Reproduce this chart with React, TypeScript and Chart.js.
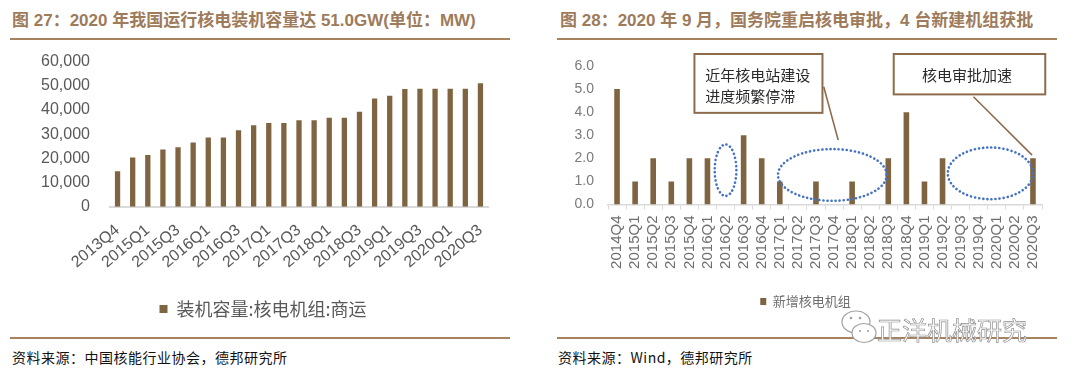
import React, { useEffect, useRef } from 'react';
import { Chart, registerables } from 'chart.js';

Chart.register(...registerables);

// ---------- data ----------
const leftCategories = [
  '2013Q4', '2014Q4', '2015Q1', '2015Q2', '2015Q3', '2015Q4', '2016Q1', '2016Q2', '2016Q3',
  '2016Q4', '2017Q1', '2017Q2', '2017Q3', '2017Q4', '2018Q1', '2018Q2', '2018Q3', '2018Q4',
  '2019Q1', '2019Q2', '2019Q3', '2019Q4', '2020Q1', '2020Q2', '2020Q3',
];
const leftCapacity = [
  14700, 20300, 21400, 23700, 24600, 26500, 28600, 28600, 31600,
  33700, 34600, 34600, 35700, 35700, 36800, 36800, 39300, 44700,
  45900, 48700, 48800, 48800, 48800, 48800, 51000,
];
const leftSeriesName = '装机容量:核电机组:商运';

const rightCategories = [
  '2014Q4', '2015Q1', '2015Q2', '2015Q3', '2015Q4', '2016Q1', '2016Q2', '2016Q3',
  '2016Q4', '2017Q1', '2017Q2', '2017Q3', '2017Q4', '2018Q1', '2018Q2', '2018Q3',
  '2018Q4', '2019Q1', '2019Q2', '2019Q3', '2019Q4', '2020Q1', '2020Q2', '2020Q3',
];
const rightNewUnits = [5, 1, 2, 1, 2, 2, 0, 3, 2, 1, 0, 1, 0, 1, 0, 2, 4, 1, 2, 0, 0, 0, 0, 2];
const rightSeriesName = '新增核电机组';

const leftTitle = '图 27：2020 年我国运行核电装机容量达 51.0GW(单位：MW)';
const rightTitle = '图 28：2020 年 9 月，国务院重启核电审批，4 台新建机组获批';
const leftSource = '资料来源：中国核能行业协会，德邦研究所';
const rightSource = '资料来源：Wind，德邦研究所';
const boxText1 = ['近年核电站建设', '进度频繁停滞'];
const boxText2 = ['核电审批加速'];
const watermark = '正洋机械研究';

// annotation anchors in data space (category index, value)
const ellipses = [
  { x0: 5.4, x1: 6.6, y0: 0.37, y1: 2.6 },
  { x0: 8.9, x1: 14.91, y0: 0.16, y1: 2.4 },
  { x0: 18.29, x1: 23.0, y0: 0.23, y1: 2.47 },
];
const boxes = [
  { x0: 4.28, x1: 11.36, y0: 3.97, y1: 6.52, lines: boxText1, align: 'left', tx: 4.88, ty: [5.61, 4.67] },
  { x0: 15.3, x1: 23.68, y0: 4.77, y1: 6.52, lines: boxText2, align: 'center', tx: 19.35, ty: [5.61] },
];
const connectors = [
  { xa: 11.43, ya: 5.1, xb: 12.23, yb: 2.79 },
  { xa: 19.71, ya: 4.67, xb: 22.95, yb: 2.14 },
];

// ---------- styles ----------
const BAR = '#7f6441';
const BROWN = '#a6825f';
const LATIN = "'Liberation Sans', Arial, 'Noto Sans CJK SC', sans-serif";
const CJK = "'Noto Sans CJK SC', 'Liberation Sans', sans-serif";

const annotationPlugin = {
  id: 'notes',
  afterDatasetsDraw(chart: any) {
    const { ctx } = chart;
    const xs = chart.scales.x;
    const ys = chart.scales.y;
    const px = (v: number) => xs.getPixelForValue(v);
    const py = (v: number) => ys.getPixelForValue(v);
    ctx.save();
    ctx.strokeStyle = '#4472c4';
    ctx.lineWidth = 2.6;
    ctx.lineCap = 'round';
    ctx.setLineDash([0.1, 4]);
    ellipses.forEach((e) => {
      const a = px(e.x0), b = px(e.x1), t = py(e.y1), bt = py(e.y0);
      ctx.beginPath();
      ctx.ellipse((a + b) / 2, (t + bt) / 2, (b - a) / 2, (bt - t) / 2, 0, 0, Math.PI * 2);
      ctx.stroke();
    });
    ctx.setLineDash([]);
    ctx.lineCap = 'butt';
    ctx.strokeStyle = '#8c6c4c';
    ctx.lineWidth = 1.6;
    connectors.forEach((c) => {
      ctx.beginPath();
      ctx.moveTo(px(c.xa), py(c.ya));
      ctx.lineTo(px(c.xb), py(c.yb));
      ctx.stroke();
    });
    boxes.forEach((bx) => {
      const a = px(bx.x0), b = px(bx.x1), t = py(bx.y1), bt = py(bx.y0);
      ctx.fillStyle = '#ffffff';
      ctx.fillRect(a, t, b - a, bt - t);
      ctx.strokeStyle = '#8c6c4c';
      ctx.lineWidth = 2;
      ctx.strokeRect(a, t, b - a, bt - t);
      ctx.fillStyle = '#2b2b2b';
      ctx.font = `15px ${CJK}`;
      ctx.textBaseline = 'middle';
      ctx.textAlign = bx.align;
      bx.lines.forEach((ln: string, i: number) => {
        ctx.fillText(ln, px(bx.tx), py(bx.ty[i]));
      });
    });
    ctx.restore();
  },
};

function ChartCanvas({ make, left, top, width, height }: any) {
  const ref = useRef<HTMLCanvasElement>(null);
  useEffect(() => {
    const chart = new Chart(ref.current as HTMLCanvasElement, make());
    return () => chart.destroy();
  }, []);
  return (
    <canvas
      ref={ref}
      width={width}
      height={height}
      style={{ position: 'absolute', left, top, width, height }}
    />
  );
}

function makeLeft(): any {
  return {
    type: 'bar',
    data: {
      labels: leftCategories,
      datasets: [
        {
          label: leftSeriesName,
          data: leftCapacity,
          backgroundColor: BAR,
          borderWidth: 0,
          barPercentage: 0.35,
          categoryPercentage: 1,
        },
      ],
    },
    options: {
      animation: false,
      responsive: false,
      devicePixelRatio: 1,
      layout: { padding: { left: 38, right: 42, top: 10, bottom: 2 } },
      plugins: {
        tooltip: { enabled: false },
        legend: {
          position: 'bottom',
          labels: {
            boxWidth: 8,
            boxHeight: 8,
            padding: 10,
            color: '#595959',
            font: { family: CJK, size: 18 },
          },
        },
      },
      scales: {
        x: {
          grid: { display: false, drawTicks: false },
          border: { display: true, color: '#d9d9d9', width: 2 },
          ticks: {
            autoSkip: false,
            minRotation: 40,
            maxRotation: 40,
            padding: 14,
            color: '#595959',
            font: { family: LATIN, size: 16 },
            callback: (_v: any, i: number) => (i % 2 === 0 ? leftCategories[i] : ''),
          },
          afterFit: (s: any) => {
            s.height = 83.3;
          },
        },
        y: {
          min: 0,
          max: 60000,
          grid: { display: false, drawTicks: false },
          border: { display: false },
          ticks: {
            stepSize: 10000,
            padding: 20,
            color: '#595959',
            font: { family: LATIN, size: 16 },
            callback: (v: any) => Number(v).toLocaleString('en-US'),
          },
          afterFit: (s: any) => {
            s.width = 72;
          },
        },
      },
    },
  };
}

function makeRight(): any {
  return {
    type: 'bar',
    data: {
      labels: rightCategories,
      datasets: [
        {
          label: rightSeriesName,
          data: rightNewUnits,
          backgroundColor: BAR,
          borderWidth: 0,
          barPercentage: 0.31,
          categoryPercentage: 1,
        },
      ],
    },
    plugins: [annotationPlugin],
    options: {
      animation: false,
      responsive: false,
      devicePixelRatio: 1,
      layout: { padding: { left: 24, right: 38, top: 26, bottom: 12 } },
      plugins: {
        tooltip: { enabled: false },
        legend: {
          position: 'bottom',
          labels: {
            boxWidth: 6,
            boxHeight: 7,
            padding: 10,
            color: '#707070',
            font: { family: CJK, size: 13 },
          },
        },
      },
      scales: {
        x: {
          grid: {
            display: true,
            drawOnChartArea: false,
            drawTicks: true,
            tickLength: 5,
            color: '#d9d9d9',
            offset: true,
          },
          border: { display: true, color: '#d9d9d9', width: 1.5 },
          ticks: {
            autoSkip: false,
            minRotation: 90,
            maxRotation: 90,
            padding: 6,
            color: '#6f6f6f',
            font: { family: LATIN, size: 15 },
          },
          afterFit: (s: any) => {
            s.height = 80.5;
          },
        },
        y: {
          min: 0,
          max: 6,
          grid: { display: false, drawTicks: false },
          border: { display: false },
          ticks: {
            stepSize: 1,
            padding: 14,
            color: '#7a7a7a',
            font: { family: LATIN, size: 14 },
            callback: (v: any) => Number(v).toFixed(1),
          },
          afterFit: (s: any) => {
            s.width = 39;
          },
        },
      },
    },
  };
}

const titleStyle: React.CSSProperties = {
  position: 'absolute',
  top: 10,
  fontFamily: LATIN,
  fontWeight: 'bold',
  fontSize: 17,
  lineHeight: '22px',
  color: '#9d7b5b',
  whiteSpace: 'nowrap',
};
const sourceStyle: React.CSSProperties = {
  position: 'absolute',
  top: 348,
  fontFamily: CJK,
  fontSize: 14,
  lineHeight: '18px',
  letterSpacing: '0.5px',
  color: '#111',
  whiteSpace: 'nowrap',
};
const rule = (left: number, top: number, width: number): React.CSSProperties => ({
  position: 'absolute',
  left,
  top,
  width,
  height: 2,
  background: BROWN,
});

export default function App() {
  return (
    <div
      style={{
        position: 'absolute',
        left: 0,
        top: 0,
        width: 1080,
        height: 374,
        background: '#fff',
        overflow: 'hidden',
      }}
    >
      <div style={{ ...titleStyle, left: 12 }}>{leftTitle}</div>
      <div style={{ ...titleStyle, left: 560 }}>{rightTitle}</div>
      <div style={rule(10, 38, 500)} />
      <div style={rule(557, 38, 500)} />

      <ChartCanvas make={makeLeft} left={0} top={32} width={530} height={298} />
      <ChartCanvas make={makeRight} left={545} top={40} width={535} height={290} />

      <div style={rule(10, 337, 500)} />
      <div style={rule(557, 337, 500)} />
      <div style={{ ...sourceStyle, left: 12 }}>{leftSource}</div>
      <div style={{ ...sourceStyle, left: 558 }}>{rightSource}</div>

      <svg
        width={50}
        height={40}
        style={{ position: 'absolute', left: 834, top: 308 }}
        viewBox="0 0 50 40"
      >
        <ellipse cx={22} cy={14} rx={14} ry={11} fill="#fff" stroke="#a0a0a0" strokeWidth={1.2} />
        <ellipse cx={30} cy={25} rx={12} ry={9.5} fill="#fff" stroke="#a0a0a0" strokeWidth={1.2} />
        <circle cx={17} cy={10} r={1.3} fill="#a0a0a0" />
        <circle cx={26} cy={10} r={1.3} fill="#a0a0a0" />
        <circle cx={26} cy={23} r={1.1} fill="#a0a0a0" />
        <circle cx={34} cy={23} r={1.1} fill="#a0a0a0" />
      </svg>
      <div
        style={{
          position: 'absolute',
          left: 877,
          top: 313,
          fontFamily: CJK,
          fontSize: 25,
          lineHeight: '32px',
          fontWeight: 400,
          color: '#ffffff',
          WebkitTextStroke: '0.7px #909090',
          whiteSpace: 'nowrap',
        }}
      >
        {watermark}
      </div>
    </div>
  );
}
